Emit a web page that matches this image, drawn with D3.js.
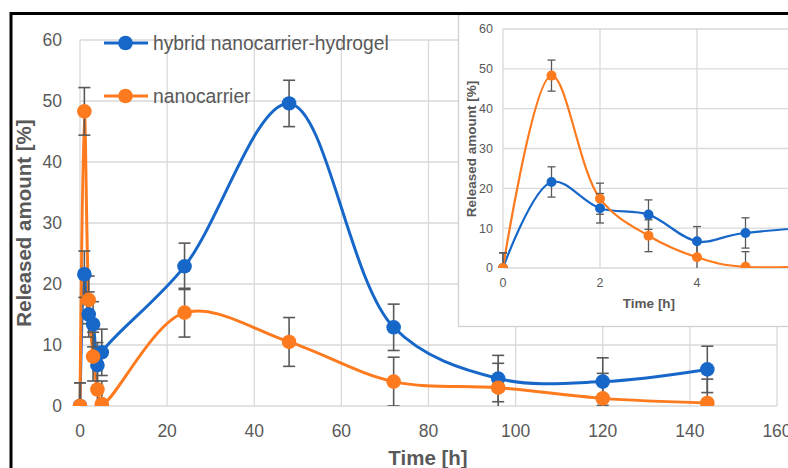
<!DOCTYPE html>
<html>
<head>
<meta charset="utf-8">
<script src="https://cdn.jsdelivr.net/npm/d3@7"></script>
<style>
  body { margin: 0; background: #fff; }
  svg { display: block; font-family: "Liberation Sans", Arial, sans-serif; }
</style>
</head>
<body>
<div id="chart"></div>
<script>
// data
const times = [0, 1, 2, 3, 4, 5, 24, 48, 72, 96, 120, 144];
const hybrid = [0, 21.6, 15.0, 13.4, 6.7, 8.8, 22.9, 49.6, 12.9, 4.5, 4.0, 6.0];
const hybridErr = [3.8, 3.8, 3.7, 3.7, 3.7, 3.8, 3.8, 3.8, 3.8, 3.8, 3.9, 3.8];
const nano = [0, 48.3, 17.4, 8.1, 2.7, 0.3, 15.3, 10.5, 4.0, 3.0, 1.25, 0.5];
const nanoErr = [3.8, 3.9, 3.9, 4.0, 3.8, 3.8, 4.0, 4.0, 4.0, 4.0, 4.1, 3.9];
const mainXTicks = [0, 20, 40, 60, 80, 100, 120, 140, 160];
const mainYTicks = [0, 10, 20, 30, 40, 50, 60];
const insetXTicks = [0, 2, 4];
const insetYTicks = [0, 10, 20, 30, 40, 50, 60];
const seriesNames = ["hybrid nanocarrier-hydrogel", "nanocarrier"];

const WIDTH = 788, HEIGHT = 468;
const BLUE = "#1767c9", ORANGE = "#fd7a1e", GRID = "#d9d9d9", TEXT = "#595959", BAR = "#595959";

const series = [
  {name: seriesNames[0], color: BLUE, values: hybrid, err: hybridErr},
  {name: seriesNames[1], color: ORANGE, values: nano, err: nanoErr}
];

const svg = d3.select("#chart").append("svg")
  .attr("width", WIDTH).attr("height", HEIGHT);

// draws one panel (main chart or inset)
function panel(g, opt) {
  const x = d3.scaleLinear().domain(opt.xDomain).range([opt.left, opt.right]);
  const y = d3.scaleLinear().domain([0, 60]).range([opt.bottom, opt.top]);

  // grid
  g.append("g").selectAll("line").data(opt.yTicks).enter().append("line")
    .attr("x1", opt.left).attr("x2", x(opt.xDomain[1]))
    .attr("y1", d => y(d)).attr("y2", d => y(d))
    .attr("stroke", GRID).attr("stroke-width", 1.3);
  g.append("g").selectAll("line").data(opt.xTicks).enter().append("line")
    .attr("x1", d => x(d)).attr("x2", d => x(d))
    .attr("y1", opt.top).attr("y2", opt.bottom)
    .attr("stroke", GRID).attr("stroke-width", 1.3);

  // tick labels
  g.append("g").selectAll("text").data(opt.yTicks).enter().append("text")
    .attr("x", opt.left - opt.yLabelGap).attr("y", d => y(d))
    .attr("dy", "0.35em").attr("text-anchor", "end")
    .attr("font-size", opt.tickSize).attr("fill", TEXT).text(d => d);
  g.append("g").selectAll("text").data(opt.xTicks).enter().append("text")
    .attr("x", d => x(d)).attr("y", opt.xLabelY)
    .attr("text-anchor", "middle")
    .attr("font-size", opt.tickSize).attr("fill", TEXT).text(d => d);

  // axis titles
  g.append("text")
    .attr("x", opt.xTitle[0]).attr("y", opt.xTitle[1])
    .attr("text-anchor", "middle").attr("font-weight", "bold")
    .attr("font-size", opt.titleSize).attr("fill", TEXT).text("Time [h]");
  g.append("text")
    .attr("transform", "translate(" + opt.yTitle[0] + "," + opt.yTitle[1] + ") rotate(-90)")
    .attr("text-anchor", "middle").attr("dy", "0.35em").attr("font-weight", "bold")
    .attr("font-size", opt.titleSize).attr("fill", TEXT).text("Released amount [%]");

  // clip marks to plot area
  const clipId = "clip-" + opt.id;
  g.append("clipPath").attr("id", clipId).append("rect")
    .attr("x", opt.left - 10).attr("y", opt.top - 10)
    .attr("width", opt.right - opt.left + 20).attr("height", opt.bottom - opt.top + 10);
  const marks = g.append("g").attr("clip-path", "url(#" + clipId + ")");

  const line = d3.line()
    .x(d => x(d.t)).y(d => y(d.v))
    .curve(d3.curveCatmullRom.alpha(0.5));

  series.forEach(s => {
    const pts = times.map((t, i) => ({t: t, v: s.values[i], e: s.err[i]}));
    marks.append("path").datum(pts)
      .attr("d", line).attr("fill", "none")
      .attr("stroke", s.color).attr("stroke-width", opt.lineWidth);
    s.pts = pts;
  });

  series.forEach(s => {
    const eb = marks.append("g").attr("stroke", BAR).attr("stroke-width", opt.barWidth);
    eb.selectAll(".v").data(s.pts).enter().append("line")
      .attr("x1", d => x(d.t)).attr("x2", d => x(d.t))
      .attr("y1", d => y(d.v - d.e)).attr("y2", d => y(d.v + d.e));
    eb.selectAll(".top").data(s.pts).enter().append("line")
      .attr("x1", d => x(d.t) - opt.cap).attr("x2", d => x(d.t) + opt.cap)
      .attr("y1", d => y(d.v + d.e)).attr("y2", d => y(d.v + d.e));
    eb.selectAll(".bot").data(s.pts).enter().append("line")
      .attr("x1", d => x(d.t) - opt.cap).attr("x2", d => x(d.t) + opt.cap)
      .attr("y1", d => y(d.v - d.e)).attr("y2", d => y(d.v - d.e));
  });

  series.forEach(s => {
    marks.append("g").selectAll("circle").data(s.pts).enter().append("circle")
      .attr("cx", d => x(d.t)).attr("cy", d => y(d.v))
      .attr("r", opt.r).attr("fill", s.color);
  });
}

// main chart
const mainG = svg.append("g");
panel(mainG, {
  id: "main", xDomain: [0, 160], left: 80, right: 777, top: 40, bottom: 406,
  xTicks: mainXTicks, yTicks: mainYTicks,
  tickSize: 17.5, titleSize: 20.5, yLabelGap: 18, xLabelY: 437,
  xTitle: [428, 465], yTitle: [24, 223],
  lineWidth: 3, barWidth: 1.6, cap: 6, r: 7.3
});

// legend
const legend = svg.append("g");
series.forEach((s, i) => {
  const ly = 43 + i * 53;
  legend.append("line").attr("x1", 104).attr("x2", 148)
    .attr("y1", ly).attr("y2", ly).attr("stroke", s.color).attr("stroke-width", 3);
  legend.append("circle").attr("cx", 125.5).attr("cy", ly).attr("r", 7.3).attr("fill", s.color);
  legend.append("text").attr("x", 153).attr("y", ly).attr("dy", "0.35em")
    .attr("font-size", 19.3).attr("fill", TEXT).text(s.name);
});

// inset
const insetG = svg.append("g");
insetG.append("rect").attr("x", 458.5).attr("y", 13).attr("width", 340).attr("height", 313.5)
  .attr("fill", "#fff").attr("stroke", "#d0d0d0").attr("stroke-width", 1.3);
panel(insetG, {
  id: "inset", xDomain: [0, 6], left: 503, right: 794, top: 29, bottom: 268,
  xTicks: insetXTicks, yTicks: insetYTicks,
  tickSize: 12.5, titleSize: 13.5, yLabelGap: 10, xLabelY: 287,
  xTitle: [649, 308], yTitle: [471, 149],
  lineWidth: 2.2, barWidth: 1.3, cap: 4, r: 5
});

// outer black frame
svg.append("rect").attr("x", 11).attr("y", 13.5).attr("width", 800).attr("height", 500)
  .attr("fill", "none").attr("stroke", "#000").attr("stroke-width", 3);
</script>
</body>
</html>
